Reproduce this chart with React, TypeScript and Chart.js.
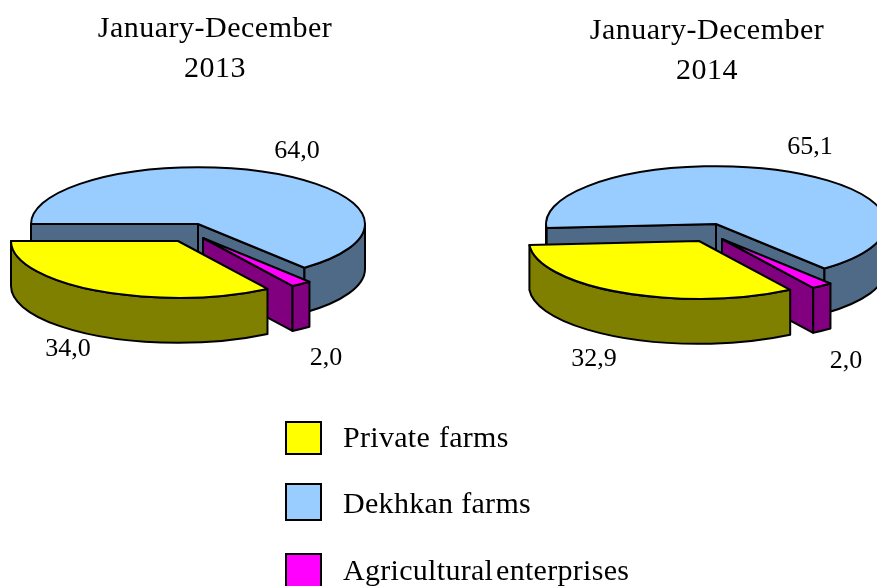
import React, { useEffect, useRef } from "react";
import { Chart, registerables } from "chart.js";

Chart.register(...registerables);

const categories = ["Dekhkan farms", "Agricultural enterprises", "Private farms"];
const values2013 = [64.0, 2.0, 34.0];
const values2014 = [65.1, 2.0, 32.9];
const titleLines2013 = ["January-December", "2013"];
const titleLines2014 = ["January-December", "2014"];
const legendOrder = ["Private farms", "Dekhkan farms", "Agricultural enterprises"];

const topColors = ["#99CCFF", "#FF00FF", "#FFFF00"];
const sideColors = ["#4F6A87", "#800080", "#808000"];
const FONT = "'Liberation Serif', 'Times New Roman', serif";

type Cfg = {
  values: number[];
  title: string[];
  left: number;
  top: number;
  width: number;
  radius: number;
  rotation: number;
  center: [number, number];
  explode: [number, number][];
  labelAt: [number, number][];
  height: number;
};

const squash = 0.34;
const depth = 45;

function pie3d(cfg: Cfg) {
  return {
    id: "pie3d",
    beforeDraw(chart: any) {
      chart.ctx.letterSpacing = "0.5px";
    },
    beforeDatasetsDraw(chart: any) {
      const ctx = chart.ctx as CanvasRenderingContext2D;
      const arcs = chart.getDatasetMeta(0).data;
      ctx.save();
      ctx.lineJoin = "round";
      ctx.lineWidth = 2;
      ctx.strokeStyle = "#000";
      arcs.forEach((arc: any, i: number) => {
        const R = arc.outerRadius;
        const Ry = R * squash;
        const cx = cfg.center[0] - cfg.left + cfg.explode[i][0];
        const cy = cfg.center[1] - cfg.top + cfg.explode[i][1];
        const a0 = arc.startAngle;
        const a1 = arc.endAngle;
        const at = (a: number): [number, number] => [cx + R * Math.cos(a), cy + Ry * Math.sin(a)];
        const quad = (a: number) => {
          const p = at(a);
          ctx.beginPath();
          ctx.moveTo(cx, cy);
          ctx.lineTo(p[0], p[1]);
          ctx.lineTo(p[0], p[1] + depth);
          ctx.lineTo(cx, cy + depth);
          ctx.closePath();
          ctx.fillStyle = sideColors[i];
          ctx.fill();
          ctx.stroke();
        };
        if (Math.sin(a0 - Math.PI / 2) > 0) quad(a0);
        if (Math.sin(a1 + Math.PI / 2) > 0) quad(a1);
        for (let k = 0; k < 2; k++) {
          const lo = Math.max(a0, 2 * Math.PI * k);
          const hi = Math.min(a1, Math.PI + 2 * Math.PI * k);
          if (hi > lo) {
            ctx.beginPath();
            ctx.ellipse(cx, cy, R, Ry, 0, lo, hi);
            ctx.ellipse(cx, cy + depth, R, Ry, 0, hi, lo, true);
            ctx.closePath();
            ctx.fillStyle = sideColors[i];
            ctx.fill();
            ctx.stroke();
          }
        }
        ctx.beginPath();
        ctx.moveTo(cx, cy);
        ctx.ellipse(cx, cy, R, Ry, 0, a0, a1);
        ctx.closePath();
        ctx.fillStyle = arc.options.backgroundColor;
        ctx.fill();
        ctx.stroke();
      });
      ctx.fillStyle = "#000";
      ctx.font = `26px ${FONT}`;
      ctx.letterSpacing = "0px";
      ctx.textAlign = "center";
      ctx.textBaseline = "middle";
      cfg.values.forEach((v, i) => {
        ctx.fillText(
          v.toFixed(1).replace(".", ","),
          cfg.labelAt[i][0] - cfg.left,
          cfg.labelAt[i][1] - cfg.top
        );
      });
      ctx.restore();
      return false;
    },
  };
}

const chart2013: Cfg = {
  values: values2013,
  title: titleLines2013,
  left: 0,
  top: 0,
  width: 430,
  height: 586,
  radius: 167,
  rotation: 270,
  center: [198, 224],
  explode: [[0, 0], [5, 14], [-20, 17]],
  labelAt: [[297, 151], [326, 358], [68, 349]],
};

const chart2014: Cfg = {
  values: values2014,
  title: titleLines2014,
  left: 507,
  top: 2,
  width: 400,
  height: 584,
  radius: 170,
  rotation: 266,
  center: [716, 224],
  explode: [[0, 0], [6, 15], [-17, 17]],
  labelAt: [[810, 147], [846, 361], [594, 359]],
};

function Pie({ cfg }: { cfg: Cfg }) {
  const ref = useRef<HTMLCanvasElement | null>(null);
  useEffect(() => {
    if (!ref.current) return;
    const pad = (cfg.width - cfg.radius * 2) / 2;
    const chart = new Chart(ref.current, {
      type: "pie",
      data: {
        labels: categories,
        datasets: [{ data: cfg.values, backgroundColor: topColors, borderWidth: 0 }],
      },
      options: {
        animation: false,
        responsive: false,
        devicePixelRatio: 1,
        rotation: cfg.rotation,
        layout: { padding: { left: pad, right: pad, top: 0, bottom: 0 } },
        plugins: {
          legend: { display: false },
          tooltip: { enabled: false },
          title: {
            display: true,
            text: cfg.title,
            color: "#000",
            font: { family: FONT, size: 30, weight: "normal", lineHeight: 40 / 30 },
            padding: { top: 9, bottom: 0 },
          },
        },
      },
      plugins: [pie3d(cfg)],
    } as any);
    return () => chart.destroy();
  }, [cfg]);
  return (
    <canvas
      ref={ref}
      width={cfg.width}
      height={cfg.height}
      style={{ position: "absolute", left: cfg.left, top: cfg.top, width: cfg.width, height: cfg.height }}
    />
  );
}

const legendColors = ["#FFFF00", "#99CCFF", "#FF00FF"];
const legendBoxes = [
  { top: 421, height: 34, base: 452 },
  { top: 483, height: 38, base: 518 },
  { top: 553, height: 38, base: 585 },
];
const legendWordSpacing = ["1px", "0px", "-5px"];

export default function App() {
  return (
    <div
      style={{
        position: "absolute",
        left: 0,
        top: 0,
        width: 877,
        height: 586,
        overflow: "hidden",
        background: "#fff",
      }}
    >
      <Pie cfg={chart2013} />
      <Pie cfg={chart2014} />
      {legendOrder.map((name, i) => (
        <React.Fragment key={name}>
          <div
            style={{
              position: "absolute",
              left: 285,
              top: legendBoxes[i].top,
              width: 37,
              height: legendBoxes[i].height,
              boxSizing: "border-box",
              border: "2px solid #000",
              background: legendColors[i],
            }}
          />
          <div
            style={{
              position: "absolute",
              left: 343,
              top: legendBoxes[i].base - 40,
              height: 50,
              lineHeight: "50px",
              fontFamily: FONT,
              fontSize: 30,
              letterSpacing: "0.3px",
              wordSpacing: legendWordSpacing[i],
              whiteSpace: "nowrap",
              color: "#000",
            }}
          >
            {name}
          </div>
        </React.Fragment>
      ))}
    </div>
  );
}
